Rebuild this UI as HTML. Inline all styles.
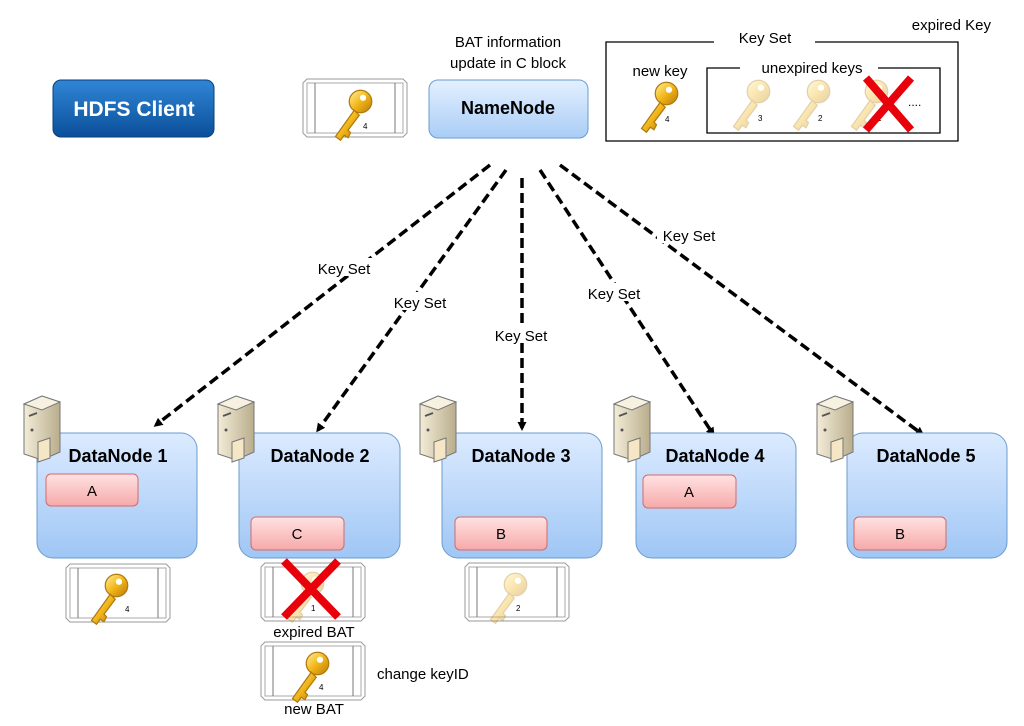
<!DOCTYPE html>
<html><head><meta charset="utf-8"><style>
html,body{margin:0;padding:0;background:#fff;}
svg{display:block;font-family:"Liberation Sans",sans-serif;}
</style></head><body>
<svg width="1024" height="726" viewBox="0 0 1024 726" xmlns="http://www.w3.org/2000/svg">
<defs>
<linearGradient id="dn" x1="0" y1="0" x2="0" y2="1"><stop offset="0" stop-color="#dcebff"/><stop offset="1" stop-color="#9fc6f5"/></linearGradient>
<linearGradient id="nn" x1="0" y1="0" x2="0" y2="1"><stop offset="0" stop-color="#e4f0ff"/><stop offset="1" stop-color="#a9cdf6"/></linearGradient>
<linearGradient id="hc" x1="0" y1="0" x2="0" y2="1"><stop offset="0" stop-color="#2f86d6"/><stop offset="1" stop-color="#0b4f9a"/></linearGradient>
<linearGradient id="blk" x1="0" y1="0" x2="0" y2="1"><stop offset="0" stop-color="#ffe2e2"/><stop offset="1" stop-color="#f6a9a9"/></linearGradient>
<linearGradient id="gold" x1="0" y1="0" x2="1" y2="1"><stop offset="0" stop-color="#fff29a"/><stop offset="0.5" stop-color="#f2b619"/><stop offset="1" stop-color="#b87a08"/></linearGradient>
<linearGradient id="srv" x1="0" y1="0" x2="1" y2="0"><stop offset="0" stop-color="#f3ecd8"/><stop offset="1" stop-color="#b9ad8c"/></linearGradient>
<marker id="ah" markerWidth="9" markerHeight="9" refX="6" refY="4.5" orient="auto" markerUnits="userSpaceOnUse"><path d="M0,0 L9,4.5 L0,9 z" fill="#000"/></marker>
<g id="key"><g transform="scale(1.25)"><circle cx="10" cy="-10" r="9" fill="url(#gold)" stroke="#b07a10" stroke-width="1"/><circle cx="12" cy="-13" r="2.5" fill="#fff"/><path d="M5,-3 L-10,18 L-6,21 L-3,17 L0,19 L2,15 L0,13 L9,1 z" fill="url(#gold)" stroke="#b07a10" stroke-width="1"/></g></g>
<g id="tk"><path d="M4,0 H100 L104,4 V54 L100,58 H4 L0,54 V4 z" fill="#fff" stroke="#999"/><rect x="4" y="4" width="96" height="50" fill="#fff" stroke="#aaa"/><line x1="12" y1="4" x2="12" y2="54" stroke="#777"/><line x1="92" y1="4" x2="92" y2="54" stroke="#777"/></g>
<g id="server"><path d="M4,8 L22,0 L40,6 L40,56 L22,64 L4,58 z" fill="url(#srv)" stroke="#777"/><path d="M4,8 L22,0 L40,6 L22,14 z" fill="#f7f1e2" stroke="#777"/><line x1="9" y1="20" x2="17" y2="17" stroke="#555" stroke-width="2"/><circle cx="12" cy="34" r="1.5" fill="#555"/><path d="M18,46 L30,42 L30,62 L18,66 z" fill="#f5e6c6" stroke="#777"/></g>
</defs>

<rect x="53" y="80" width="161" height="57" rx="8" fill="url(#hc)" stroke="#0a3f7a"/>
<text x="134" y="116" text-anchor="middle" font-size="21" font-weight="bold" fill="#fff">HDFS Client</text>

<use href="#tk" x="303" y="79"/>
<use href="#key" x="348" y="114"/>
<text x="363" y="129" font-size="8">4</text>

<text x="508" y="47" text-anchor="middle" font-size="15">BAT information</text>
<text x="508" y="68" text-anchor="middle" font-size="15">update in C block</text>
<rect x="429" y="80" width="159" height="58" rx="9" fill="url(#nn)" stroke="#6a9ccf"/>
<text x="508" y="114" text-anchor="middle" font-size="18" font-weight="bold">NameNode</text>

<text x="991" y="30" text-anchor="end" font-size="15">expired Key</text>
<path d="M714,42 H606 V141 H958 V42 H815" fill="none" stroke="#000" stroke-width="1.3"/>
<text x="765" y="43" text-anchor="middle" font-size="15">Key Set</text>
<path d="M740,68 H707 V133 H940 V68 H878" fill="none" stroke="#000" stroke-width="1.3"/>
<text x="812" y="73" text-anchor="middle" font-size="15">unexpired keys</text>
<text x="660" y="76" text-anchor="middle" font-size="15">new key</text>
<use href="#key" x="654" y="106"/><text x="665" y="122" font-size="8">4</text>
<g opacity="0.35"><use href="#key" x="746" y="104"/><use href="#key" x="806" y="104"/><use href="#key" x="864" y="104"/></g>
<text x="758" y="121" font-size="8">3</text><text x="818" y="121" font-size="8">2</text><text x="877" y="121" font-size="8">1</text>
<path d="M866,78 L911,130 M911,78 L866,130" stroke="#e8000a" stroke-width="8"/>
<text x="908" y="106" font-size="12">....</text>

<g stroke="#000" stroke-width="3.5" stroke-dasharray="10,5" fill="none" marker-end="url(#ah)">
<line x1="490" y1="165" x2="156" y2="425"/>
<line x1="506" y1="170" x2="318" y2="430"/>
<line x1="522" y1="178" x2="522" y2="428"/>
<line x1="540" y1="170" x2="713" y2="434"/>
<line x1="560" y1="165" x2="922" y2="434"/>
</g>
<g font-size="15" text-anchor="middle">
<rect x="312" y="258" width="64" height="18" fill="#fff"/><text x="344" y="274">Key Set</text>
<rect x="388" y="292" width="64" height="18" fill="#fff"/><text x="420" y="308">Key Set</text>
<rect x="489" y="325" width="64" height="18" fill="#fff"/><text x="521" y="341">Key Set</text>
<rect x="582" y="283" width="64" height="18" fill="#fff"/><text x="614" y="299">Key Set</text>
<rect x="657" y="225" width="64" height="18" fill="#fff"/><text x="689" y="241">Key Set</text>
</g>

<g stroke="#6a9ccf" fill="url(#dn)">
<rect x="37" y="433" width="160" height="125" rx="16"/>
<rect x="239" y="433" width="161" height="125" rx="16"/>
<rect x="442" y="433" width="160" height="125" rx="16"/>
<rect x="636" y="433" width="160" height="125" rx="16"/>
<rect x="847" y="433" width="160" height="125" rx="16"/>
</g>
<use href="#server" x="20" y="396"/>
<use href="#server" x="214" y="396"/>
<use href="#server" x="416" y="396"/>
<use href="#server" x="610" y="396"/>
<use href="#server" x="813" y="396"/>
<g font-size="18" font-weight="bold" text-anchor="middle">
<text x="118" y="462">DataNode 1</text>
<text x="320" y="462">DataNode 2</text>
<text x="521" y="462">DataNode 3</text>
<text x="715" y="462">DataNode 4</text>
<text x="926" y="462">DataNode 5</text>
</g>
<g fill="url(#blk)" stroke="#d46a6a">
<rect x="46" y="474" width="92" height="32" rx="5"/>
<rect x="251" y="517" width="93" height="33" rx="5"/>
<rect x="455" y="517" width="92" height="33" rx="5"/>
<rect x="643" y="475" width="93" height="33" rx="5"/>
<rect x="854" y="517" width="92" height="33" rx="5"/>
</g>
<g font-size="15" text-anchor="middle">
<text x="92" y="496">A</text><text x="297" y="539">C</text><text x="501" y="539">B</text><text x="689" y="497">A</text><text x="900" y="539">B</text>
</g>

<use href="#tk" x="66" y="564"/><use href="#key" x="104" y="598"/><text x="125" y="612" font-size="8">4</text>
<use href="#tk" x="261" y="563"/><g opacity="0.35"><use href="#key" x="300" y="596"/></g><text x="311" y="611" font-size="8">1</text>
<path d="M284,561 L338,617 M338,561 L284,617" stroke="#e8000a" stroke-width="8"/>
<text x="314" y="637" text-anchor="middle" font-size="15">expired BAT</text>
<use href="#tk" x="261" y="642"/><use href="#key" x="305" y="676"/><text x="319" y="690" font-size="8">4</text>
<text x="314" y="714" text-anchor="middle" font-size="15">new BAT</text>
<text x="377" y="679" font-size="15">change keyID</text>
<use href="#tk" x="465" y="563"/><g opacity="0.35"><use href="#key" x="503" y="597"/></g><text x="516" y="611" font-size="8">2</text>
</svg>
</body></html>
